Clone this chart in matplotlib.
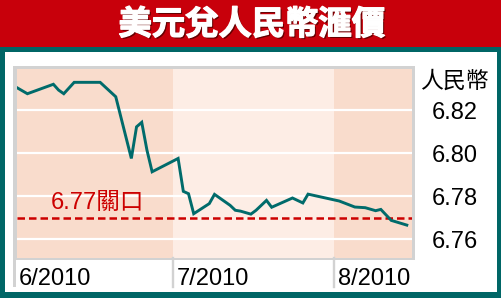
import matplotlib
matplotlib.use("Agg")
import matplotlib.pyplot as plt
import matplotlib.patheffects as pe
from matplotlib.patches import Rectangle
import pandas as pd

# USD/CNY daily rate, June - mid August 2010
dates = ["2010-06-01", "2010-06-03", "2010-06-08", "2010-06-09", "2010-06-10",
         "2010-06-12", "2010-06-17", "2010-06-20", "2010-06-23", "2010-06-24",
         "2010-06-25", "2010-06-26", "2010-06-27", "2010-07-02", "2010-07-03",
         "2010-07-04", "2010-07-05", "2010-07-08", "2010-07-09", "2010-07-11",
         "2010-07-12", "2010-07-13", "2010-07-14", "2010-07-16", "2010-07-17",
         "2010-07-19", "2010-07-20", "2010-07-24", "2010-07-26", "2010-07-27",
         "2010-08-02", "2010-08-05", "2010-08-07", "2010-08-09", "2010-08-10",
         "2010-08-12", "2010-08-15"]
rates = [6.8304, 6.8276, 6.8320, 6.8293, 6.8276,
         6.8329, 6.8329, 6.8262, 6.7975, 6.8122,
         6.8143, 6.8014, 6.7913, 6.7975, 6.7822,
         6.7811, 6.7718, 6.7765, 6.7808, 6.7774,
         6.7757, 6.7734, 6.7730, 6.7716, 6.7734,
         6.7780, 6.7748, 6.7791, 6.7768, 6.7809,
         6.7777, 6.7749, 6.7746, 6.7732, 6.7738,
         6.7687, 6.7665]

month_starts = ["2010-06-01", "2010-07-01", "2010-08-01"]
month_labels = ["6/2010", "7/2010", "8/2010"]
range_end = "2010-08-16"
y_ticks = [6.76, 6.78, 6.80, 6.82]
y_tick_labels = ["6.76", "6.78", "6.80", "6.82"]
threshold = 6.77
threshold_label = "6.77關口"
title = "美元兌人民幣滙價"
unit_label = "人民幣"

RED = "#c8000b"
TEAL_FRAME = "#006666"
LINE = "#006b6b"
BAND_DARK = "#f9dccc"
BAND_LIGHT = "#fdede5"
GREY = "#d2d2d2"
CJK = "Noto Sans CJK TC"
LATIN = "Liberation Sans"

W, H = 502, 298
fig = plt.figure(figsize=(W / 100, H / 100), dpi=100)
fig.patch.set_facecolor("white")


def box(x0, y0, x1, y1, color, z=0):
    """Rectangle given in pixels measured from the top-left corner."""
    fig.patches.append(Rectangle((x0 / W, 1 - y1 / H), (x1 - x0) / W, (y1 - y0) / H,
                                 transform=fig.transFigure, facecolor=color,
                                 edgecolor="none", zorder=z))


# header bar and framed panel
box(0, 0, W, 47, RED)
box(0, 47, W, H, TEAL_FRAME)
box(5, 52, 497, 292, "white")
# grey frame around the plot and its left extension under the axis
box(13.5, 66, 415, 260, GREY)
box(13.5, 258, 16.5, 287, GREY)

fig.text(252 / W, 1 - 25 / H, title, color="white", fontsize=24,
         family=CJK, fontweight="heavy", ha="center", va="center",
         path_effects=[pe.SimplePatchShadow(offset=(1.2, -1.2), shadow_rgbFace="#5a0000",
                                            alpha=0.9),
                       pe.withStroke(linewidth=0.9, foreground="white")])

ax = fig.add_axes([17 / W, 1 - 258 / H, (412 - 17) / W, (258 - 69) / H])
ax.set_zorder(5)
x = pd.to_datetime(dates)
ms = pd.to_datetime(month_starts)
end = pd.to_datetime(range_end)

# monthly background bands
band_edges = list(ms) + [end]
for i in range(len(ms)):
    ax.axvspan(band_edges[i], band_edges[i + 1],
               color=BAND_DARK if i % 2 == 0 else BAND_LIGHT, lw=0, zorder=0)

ax.set_xlim(ms[0], end)
ax.set_ylim(6.7512, 6.8391)
ax.set_yticks(y_ticks)
ax.set_yticklabels(y_tick_labels)
ax.grid(axis="y", color="white", linewidth=1.6, zorder=1)
ax.set_axisbelow(False)
ax.set_xticks([])
ax.tick_params(axis="y", left=False, right=False, labelleft=False,
               labelright=True, pad=11, labelsize=17)
for lab in ax.get_yticklabels():
    lab.set_family(LATIN)
for s in ax.spines.values():
    s.set_visible(False)
ax.set_facecolor("none")

# 6.77 threshold
ax.axhline(threshold, color="#cc0000", linewidth=1.8, zorder=2,
           linestyle=(0, (3.0, 1.6)))
ax.annotate(threshold_label, xy=(ms[0], threshold), xycoords="data",
            xytext=(34, 9), textcoords="offset pixels", color="#cc0000",
            fontsize=17, family=[LATIN, CJK], va="baseline", ha="left")

ax.plot(x, rates, color=LINE, linewidth=2.1, zorder=3, solid_joinstyle="miter")

# month labels and separators below the plot
for i, (m, lab) in enumerate(zip(ms, month_labels)):
    if i > 0:
        ax.axvline(m, ymin=-0.153, ymax=0, clip_on=False, color=GREY, lw=1.7)
    ax.annotate(lab, xy=(m, 0), xycoords=("data", "axes fraction"),
                xytext=(2 if i == 0 else 4, -27), textcoords="offset pixels",
                fontsize=17, family=LATIN, va="baseline", ha="left")

fig.text(454 / W, 1 - 81 / H, unit_label, fontsize=16.5, family=CJK,
         ha="center", va="center")

fig.savefig("out.png", dpi=100)
